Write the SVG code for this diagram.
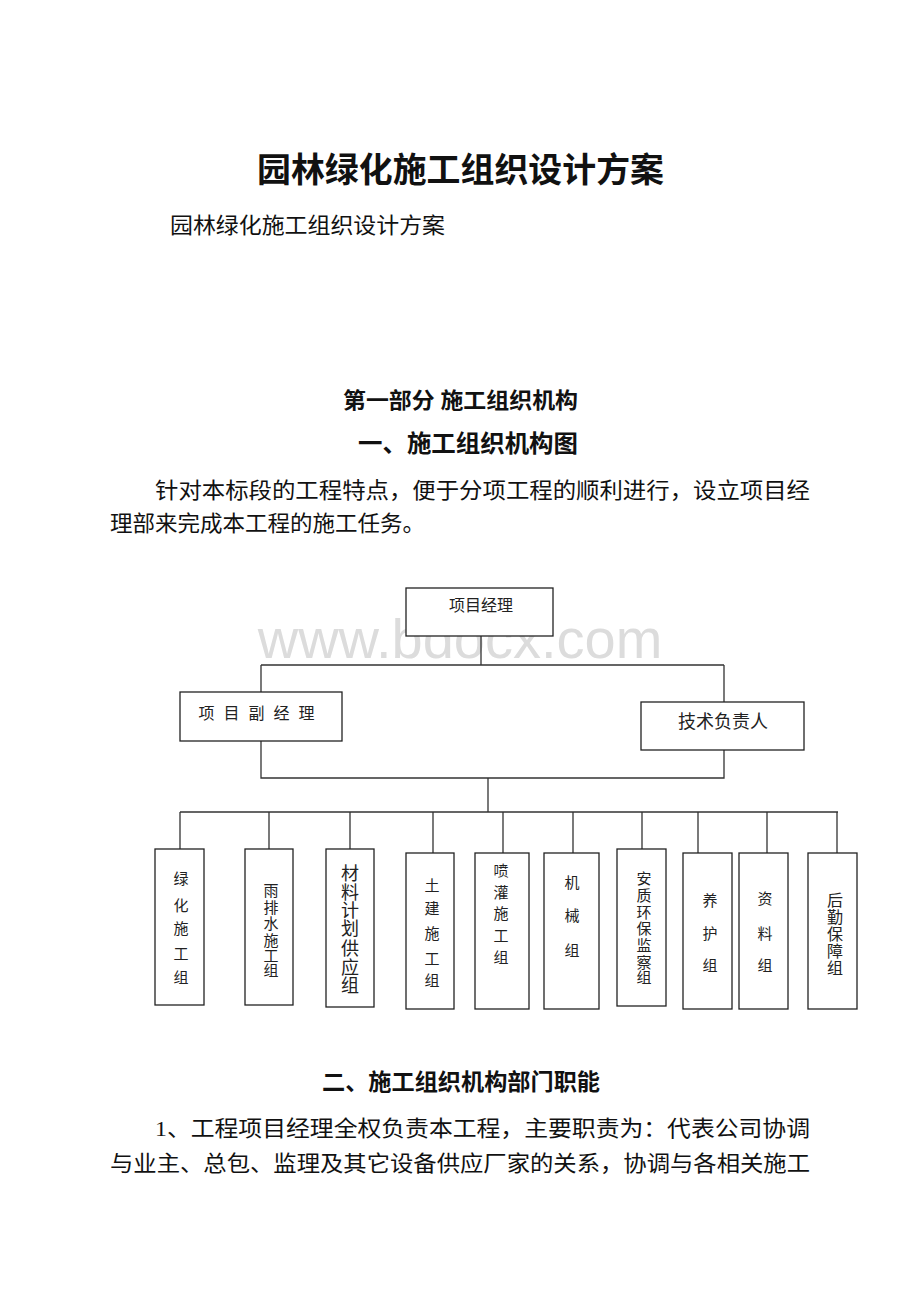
<svg xmlns="http://www.w3.org/2000/svg" width="920" height="1302" viewBox="0 0 920 1302">
<style>
.t{font-family:"Liberation Serif","Noto Sans CJK SC",serif;fill:#111}
.b{font-weight:bold}
.box{fill:#fff;stroke:#222;stroke-width:1.3}
.ln{fill:none;stroke:#333;stroke-width:1.3}
.v{font-family:"Liberation Serif","Noto Sans CJK SC",serif;fill:#222;text-anchor:middle}
.wm{font-family:"Liberation Sans",Arial,sans-serif;fill:#dcdcdc;font-size:56px;text-anchor:middle}
</style>
<rect width="920" height="1302" fill="#fff"/>
<text class="t b" x="257" y="182" font-size="34" textLength="407" lengthAdjust="spacingAndGlyphs">园林绿化施工组织设计方案</text>
<text class="t" x="170" y="233" font-size="22" textLength="275" lengthAdjust="spacingAndGlyphs">园林绿化施工组织设计方案</text>
<text class="t b" x="343" y="408" font-size="22" textLength="235" lengthAdjust="spacingAndGlyphs">第一部分 施工组织机构</text>
<text class="t b" x="358" y="452" font-size="24" textLength="220" lengthAdjust="spacingAndGlyphs">一、施工组织机构图</text>
<text class="t" x="155" y="498" font-size="22" textLength="655" lengthAdjust="spacingAndGlyphs">针对本标段的工程特点，便于分项工程的顺利进行，设立项目经</text>
<text class="t" x="110" y="531" font-size="22" textLength="315" lengthAdjust="spacingAndGlyphs">理部来完成本工程的施工任务。</text>

<text class="wm" x="460" y="658">www.bdocx.com</text>

<g id="connectors">
<path class="ln" d="M481 636V665M261 665H724M261 665V692M724 665V702M261 741V778H724V750M488 778V812M180 812H838"/>
<path class="ln" d="M180 812V849M269 812V849M350 812V849M433 812V853M503 812V853M573 812V853M642 812V849M698 812V853M767 812V853M837 812V853"/>
</g>

<g id="n-pm"><rect class="box" x="406" y="588" width="147" height="48"/><text class="v" x="481" y="611" font-size="16">项目经理</text></g>
<g id="n-dpm"><rect class="box" x="180" y="692" width="162" height="49"/><text class="v" x="261" y="719" font-size="16" letter-spacing="9">项目副经理</text></g>
<g id="n-tech"><rect class="box" x="641" y="702" width="163" height="48"/><text class="v" x="723" y="728" font-size="18">技术负责人</text></g>

<g id="n1"><rect class="box" x="155" y="849" width="49" height="156"/>
<text class="v" font-size="15"><tspan x="181" y="884">绿</tspan><tspan x="181" y="911">化</tspan><tspan x="181" y="934">施</tspan><tspan x="181" y="959">工</tspan><tspan x="181" y="983">组</tspan></text></g>
<g id="n2"><rect class="box" x="245" y="849" width="48" height="156"/>
<text class="v" font-size="15"><tspan x="271" y="896">雨</tspan><tspan x="271" y="913">排</tspan><tspan x="271" y="929">水</tspan><tspan x="271" y="946">施</tspan><tspan x="271" y="961">工</tspan><tspan x="271" y="976">组</tspan></text></g>
<g id="n3"><rect class="box" x="326" y="849" width="48" height="158"/>
<text class="v" font-size="18"><tspan x="350" y="880">材</tspan><tspan x="350" y="899">料</tspan><tspan x="350" y="917">计</tspan><tspan x="350" y="935">划</tspan><tspan x="350" y="955">供</tspan><tspan x="350" y="974">应</tspan><tspan x="350" y="992">组</tspan></text></g>
<g id="n4"><rect class="box" x="406" y="853" width="48" height="156"/>
<text class="v" font-size="15"><tspan x="432" y="891">土</tspan><tspan x="432" y="914">建</tspan><tspan x="432" y="939">施</tspan><tspan x="432" y="964">工</tspan><tspan x="432" y="986">组</tspan></text></g>
<g id="n5"><rect class="box" x="475" y="853" width="54" height="156"/>
<text class="v" font-size="15"><tspan x="501" y="876">喷</tspan><tspan x="501" y="898">灌</tspan><tspan x="501" y="919">施</tspan><tspan x="501" y="941">工</tspan><tspan x="501" y="963">组</tspan></text></g>
<g id="n6"><rect class="box" x="544" y="853" width="55" height="156"/>
<text class="v" font-size="15"><tspan x="572" y="888">机</tspan><tspan x="572" y="921">械</tspan><tspan x="572" y="956">组</tspan></text></g>
<g id="n7"><rect class="box" x="617" y="849" width="49" height="157"/>
<text class="v" font-size="15"><tspan x="644" y="884">安</tspan><tspan x="644" y="901">质</tspan><tspan x="644" y="918">环</tspan><tspan x="644" y="934">保</tspan><tspan x="644" y="951">监</tspan><tspan x="644" y="968">察</tspan><tspan x="644" y="983">组</tspan></text></g>
<g id="n8"><rect class="box" x="683" y="853" width="49" height="156"/>
<text class="v" font-size="15"><tspan x="710" y="906">养</tspan><tspan x="710" y="939">护</tspan><tspan x="710" y="971">组</tspan></text></g>
<g id="n9"><rect class="box" x="739" y="853" width="49" height="156"/>
<text class="v" font-size="15"><tspan x="765" y="904">资</tspan><tspan x="765" y="939">料</tspan><tspan x="765" y="971">组</tspan></text></g>
<g id="n10"><rect class="box" x="808" y="853" width="49" height="156"/>
<text class="v" font-size="16"><tspan x="835" y="906">后</tspan><tspan x="835" y="923">勤</tspan><tspan x="835" y="940">保</tspan><tspan x="835" y="957">障</tspan><tspan x="835" y="974">组</tspan></text></g>

<text class="t b" x="322" y="1090" font-size="23" textLength="278" lengthAdjust="spacingAndGlyphs">二、施工组织机构部门职能</text>
<text class="t" x="155" y="1136" font-size="22" textLength="655" lengthAdjust="spacingAndGlyphs">1、工程项目经理全权负责本工程，主要职责为：代表公司协调</text>
<text class="t" x="110" y="1171" font-size="22" textLength="700" lengthAdjust="spacingAndGlyphs">与业主、总包、监理及其它设备供应厂家的关系，协调与各相关施工</text>
</svg>
